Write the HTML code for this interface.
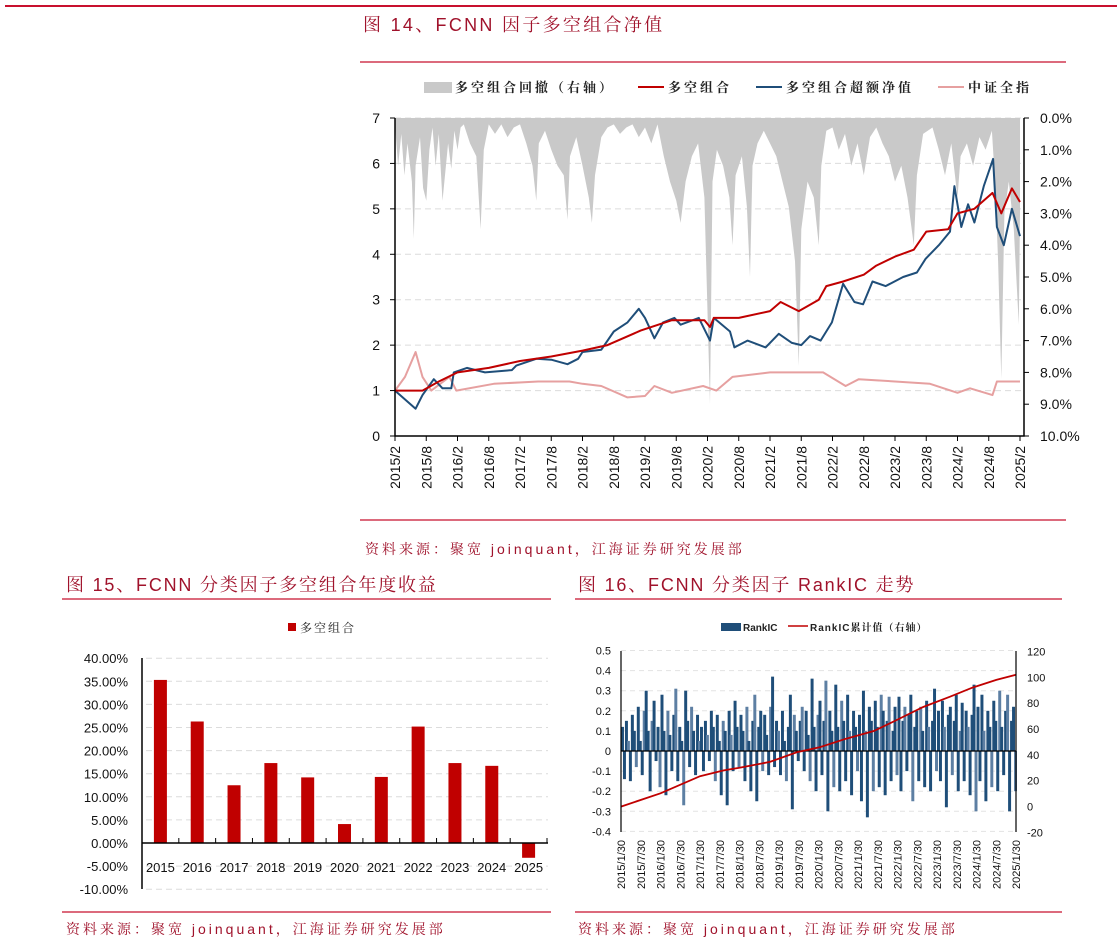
<!DOCTYPE html>
<html><head><meta charset="utf-8"><style>
html,body{margin:0;padding:0;background:#fff;width:1117px;height:943px;overflow:hidden}
svg{display:block}
text{font-family:"Liberation Sans","Noto Sans CJK SC",sans-serif}
.cn{font-family:"Liberation Sans","Noto Serif CJK SC",serif}
</style></head><body>
<svg id="s" width="1117" height="943" viewBox="0 0 1117 943" xmlns="http://www.w3.org/2000/svg">
<line x1="5" y1="6" x2="1117" y2="6" stroke="#c8102e" stroke-width="2"/>
<text x="363" y="31" class="cn" font-size="18" letter-spacing="2.3" fill="#a0122b">图 14、FCNN 因子多空组合净值</text>
<line x1="360" y1="62" x2="1066" y2="62" stroke="#c8102e" stroke-width="1.2"/>
<g font-size="13" font-weight="bold" fill="#222">
<rect x="424" y="82" width="28" height="11" fill="#c9c9c9"/>
<text x="455" y="92" class="cn" letter-spacing="3">多空组合回撤（右轴）</text>
<line x1="638" y1="87" x2="664" y2="87" stroke="#c00000" stroke-width="2"/>
<text x="668" y="92" class="cn" letter-spacing="3">多空组合</text>
<line x1="756" y1="87" x2="782" y2="87" stroke="#1f4e79" stroke-width="2"/>
<text x="786" y="92" class="cn" letter-spacing="3">多空组合超额净值</text>
<line x1="938" y1="87" x2="964" y2="87" stroke="#e6a0a0" stroke-width="2"/>
<text x="968" y="92" class="cn" letter-spacing="3">中证全指</text>
</g>
<g id="main"></g>
<line x1="360" y1="520" x2="1066" y2="520" stroke="#c8102e" stroke-width="1.2"/>
<text x="365" y="554" class="cn" font-size="14" letter-spacing="3" fill="#a0122b">资料来源：聚宽 joinquant，江海证券研究发展部</text>

<text x="66" y="591" class="cn" font-size="18" letter-spacing="1.8" fill="#a0122b">图 15、FCNN 分类因子多空组合年度收益</text>
<line x1="62" y1="599" x2="551" y2="599" stroke="#c8102e" stroke-width="1.2"/>
<rect x="288" y="623" width="8" height="8" fill="#c00000"/>
<text x="300" y="632" class="cn" font-size="12" letter-spacing="2" fill="#222">多空组合</text>
<g id="bar"></g>
<line x1="62" y1="912" x2="551" y2="912" stroke="#c8102e" stroke-width="1.2"/>
<text x="66" y="934" class="cn" font-size="14" letter-spacing="3" fill="#a0122b">资料来源：聚宽 joinquant，江海证券研究发展部</text>

<text x="578" y="591" class="cn" font-size="18" letter-spacing="1.8" fill="#a0122b">图 16、FCNN 分类因子 RankIC 走势</text>
<line x1="575" y1="599" x2="1062" y2="599" stroke="#c8102e" stroke-width="1.2"/>
<rect x="721" y="623" width="20" height="8" fill="#1f4e79"/>
<text x="743" y="631" font-size="10" font-weight="bold" fill="#222">RankIC</text>
<line x1="788" y1="626" x2="808" y2="626" stroke="#c00000" stroke-width="1.5"/>
<text x="810" y="631" class="cn" font-size="10" font-weight="bold" letter-spacing="1" fill="#222">RankIC累计值（右轴）</text>
<g id="ic"></g>
<line x1="575" y1="912" x2="1062" y2="912" stroke="#c8102e" stroke-width="1.2"/>
<text x="578" y="934" class="cn" font-size="14" letter-spacing="3" fill="#a0122b">资料来源：聚宽 joinquant，江海证券研究发展部</text>
</svg>
<script>
// ===== Main chart data (t = years since 2015/2) =====
const redT=[0,0.44,0.7,1,1.5,2,2.5,3,3.4,3.93,4.43,4.95,5.04,5.1,5.5,6,6.17,6.46,6.78,6.9,7.17,7.5,7.7,8,8.3,8.5,8.85,9,9.27,9.56,9.7,9.87,10];
const redV=[1.0,1.0,1.2,1.4,1.5,1.65,1.75,1.88,2.0,2.32,2.55,2.55,2.4,2.6,2.6,2.75,2.95,2.75,3.0,3.3,3.4,3.55,3.75,3.95,4.1,4.5,4.55,4.9,5.0,5.35,4.9,5.45,5.15];
const blueT=[0,0.33,0.44,0.62,0.76,0.9,0.94,1.15,1.44,1.87,1.94,2.26,2.5,2.76,2.93,3.0,3.3,3.5,3.72,3.9,4.0,4.15,4.29,4.47,4.57,4.86,5.04,5.1,5.36,5.43,5.64,5.93,6.14,6.35,6.5,6.64,6.81,6.99,7.17,7.35,7.49,7.64,7.85,8.13,8.35,8.49,8.7,8.88,8.95,9.06,9.17,9.27,9.42,9.57,9.63,9.74,9.87,10];
const blueV=[1.0,0.6,0.9,1.25,1.05,1.05,1.4,1.5,1.4,1.45,1.55,1.7,1.68,1.58,1.7,1.85,1.9,2.3,2.5,2.8,2.6,2.15,2.5,2.6,2.45,2.6,2.1,2.6,2.3,1.95,2.1,1.95,2.25,2.05,2.0,2.2,2.1,2.5,3.35,2.95,2.9,3.4,3.3,3.5,3.6,3.9,4.2,4.5,5.5,4.6,5.1,4.7,5.5,6.1,4.6,4.2,5.0,4.4];
const pinkT=[0,0.16,0.33,0.44,0.58,0.87,0.98,1.58,2.29,2.79,3.0,3.3,3.72,4.0,4.15,4.43,4.93,5.14,5.4,6.0,6.55,6.85,7.21,7.42,8.0,8.56,9.0,9.2,9.56,9.63,10];
const pinkV=[1.0,1.3,1.85,1.3,1.0,1.3,1.0,1.15,1.2,1.2,1.15,1.1,0.85,0.88,1.1,0.95,1.1,1.0,1.3,1.4,1.4,1.4,1.1,1.25,1.2,1.15,0.95,1.05,0.9,1.2,1.2];
const ddT=[0,0.05,0.1,0.15,0.2,0.27,0.3,0.33,0.4,0.45,0.5,0.55,0.6,0.65,0.7,0.76,0.8,0.85,0.9,0.95,1.0,1.05,1.1,1.2,1.3,1.37,1.42,1.5,1.6,1.7,1.8,1.9,2.0,2.1,2.2,2.26,2.3,2.4,2.5,2.6,2.7,2.76,2.8,2.9,3.0,3.1,3.15,3.2,3.3,3.4,3.5,3.6,3.7,3.8,3.9,4.0,4.1,4.2,4.3,4.4,4.5,4.57,4.65,4.75,4.85,4.95,5.04,5.08,5.15,5.25,5.35,5.4,5.45,5.55,5.63,5.68,5.72,5.8,5.9,6.0,6.1,6.2,6.3,6.4,6.46,6.5,6.6,6.7,6.78,6.82,6.9,7.0,7.1,7.2,7.3,7.4,7.5,7.6,7.7,7.8,7.9,8.0,8.1,8.2,8.3,8.35,8.45,8.6,8.7,8.8,8.9,9.0,9.05,9.15,9.25,9.35,9.45,9.55,9.6,9.65,9.7,9.75,9.82,9.9,9.98,10];
const ddV=[0.2,1.5,0.5,1.8,0.8,2.0,3.8,1.5,0.6,2.2,2.6,1.0,0.3,1.5,0.5,2.6,1.8,0.8,1.6,0.4,1.0,0.3,0.2,0.8,1.2,3.5,1.0,0.2,0.5,0.2,0.6,0.3,0.2,0.8,1.5,2.6,0.8,0.4,1.0,1.5,1.8,3.2,1.2,0.6,1.5,2.5,3.3,1.8,0.6,0.3,0.2,0.5,0.3,0.2,0.6,0.3,0.8,0.2,1.2,2.0,2.6,3.3,2.0,1.2,0.8,2.5,9.0,2.0,1.0,1.5,2.5,4.0,1.8,1.2,2.8,5.0,1.5,0.8,0.4,0.8,1.2,2.0,2.8,4.5,7.8,3.5,2.0,2.5,4.0,1.5,0.4,0.3,1.0,0.5,1.5,0.8,1.8,0.6,0.3,0.8,1.2,2.0,1.5,2.5,4.0,1.8,0.5,0.3,1.0,1.8,0.8,2.5,1.2,0.8,1.5,0.6,1.0,0.4,2.0,4.5,8.2,3.0,2.0,3.5,6.5,3.0];
const leftTicks=[0,1,2,3,4,5,6,7];
const rightTicks=["0.0%","1.0%","2.0%","3.0%","4.0%","5.0%","6.0%","7.0%","8.0%","9.0%","10.0%"];
const xTicks=["2015/2","2015/8","2016/2","2016/8","2017/2","2017/8","2018/2","2018/8","2019/2","2019/8","2020/2","2020/8","2021/2","2021/8","2022/2","2022/8","2023/2","2023/8","2024/2","2024/8","2025/2"];

// ===== Annual bar data =====
const years=["2015","2016","2017","2018","2019","2020","2021","2022","2023","2024","2025"];
const annual=[35.3,26.3,12.5,17.3,14.2,4.1,14.3,25.2,17.3,16.7,-3.2];
const barTicks=["40.00%","35.00%","30.00%","25.00%","20.00%","15.00%","10.00%","5.00%","0.00%","-5.00%","-10.00%"];

// ===== RankIC data =====
const rankIC=[0.12,-0.14,0.15,0.05,-0.15,0.18,0.1,-0.08,0.22,0.05,-0.12,0.2,0.3,0.1,-0.2,0.15,0.25,-0.05,0.12,-0.18,
0.28,0.1,-0.22,0.2,0.08,-0.1,0.18,0.31,-0.15,0.12,0.05,-0.27,0.3,0.15,-0.08,0.22,0.1,-0.12,0.18,0.05,
0.12,-0.1,0.15,0.08,-0.05,0.2,0.12,-0.15,0.18,0.05,-0.22,0.15,0.1,-0.27,0.2,0.08,-0.1,0.25,0.12,-0.08,
0.18,0.1,-0.15,0.22,0.05,-0.2,0.15,0.28,-0.25,0.12,0.2,-0.1,0.18,0.08,-0.12,0.22,0.37,-0.08,0.15,0.1,
-0.12,0.2,0.05,-0.15,0.12,0.28,-0.29,0.18,0.1,-0.05,0.15,0.22,-0.1,0.2,0.08,-0.15,0.36,0.12,-0.2,0.18,
0.25,-0.12,0.15,0.35,-0.3,0.2,0.1,-0.18,0.33,0.12,-0.2,0.25,0.15,-0.15,0.28,0.1,-0.22,0.2,0.12,-0.1,
0.18,-0.25,0.3,0.1,-0.33,0.22,0.15,-0.2,0.25,0.12,-0.18,0.28,0.2,-0.22,0.15,0.27,-0.15,0.1,0.22,-0.12,
0.27,-0.2,0.15,0.22,-0.1,0.18,0.28,-0.25,0.12,0.2,-0.15,0.22,0.1,-0.18,0.25,0.12,-0.2,0.15,0.31,-0.1,
0.2,-0.15,0.25,0.12,-0.28,0.18,0.22,-0.12,0.15,0.28,-0.2,0.1,0.24,-0.15,0.2,0.12,-0.22,0.18,0.33,-0.3,
0.22,-0.15,0.28,0.1,-0.25,0.2,0.12,-0.18,0.25,0.15,-0.2,0.3,0.12,-0.12,0.2,0.28,-0.3,0.15,0.22,-0.2];
const cumT=[0,1,2,2.6,3,3.77,4.45,5.04,5.7,6.4,6.98,7.65,8.33,8.9,9.5,10];
const cumV=[0,10.3,23.5,28,30,34.6,42,46,52.5,58.5,67,77,85,92,98,102];
const icLeftTicks=["0.5","0.4","0.3","0.2","0.1","0","-0.1","-0.2","-0.3","-0.4"];
const icRightTicks=["120","100","80","60","40","20","0","-20"];
const icXTicks=["2015/1/30","2015/7/30","2016/1/30","2016/7/30","2017/1/30","2017/7/30","2018/1/30","2018/7/30","2019/1/30","2019/7/30","2020/1/30","2020/7/30","2021/1/30","2021/7/30","2022/1/30","2022/7/30","2023/1/30","2023/7/30","2024/1/30","2024/7/30","2025/1/30"];

const NS="http://www.w3.org/2000/svg";
function mk(p,tag,a,txt){const e=document.createElementNS(NS,tag);for(const k in a)e.setAttribute(k,a[k]);if(txt!==undefined)e.textContent=txt;p.appendChild(e);return e;}

// ---- Main chart ----
(function(){
const g=document.getElementById('main');
const X=t=>395+t*62.5, Y=v=>436-v*45.43, Y2=p=>118+p*31.8;
leftTicks.forEach(v=>{
 if(v>0){const l=mk(g,'line',{x1:395,x2:1022,y1:Y(v),y2:Y(v),stroke:'#dcdcdc','stroke-dasharray':'6,4'});
 
 }
 const t=mk(g,'text',{x:380,y:Y(v)+5,'font-size':14,'text-anchor':'end',fill:'#111'},String(v));
 
 
});
rightTicks.forEach((s,i)=>{
 const t=mk(g,'text',{x:1040,y:Y2(i)+5,'font-size':14,fill:'#111'},s);
 
 
 const m=mk(g,'line',{x1:1024,x2:1029,y1:Y2(i),y2:Y2(i),stroke:'#000'});
 
 
});
let d='M'+X(ddT[0])+','+Y2(0);
ddT.forEach((t,i)=>{d+=' L'+X(t).toFixed(1)+','+Y2(ddV[i]).toFixed(1);});
d+=' L'+X(ddT[ddT.length-1])+','+Y2(0)+' Z';
const a=mk(g,'path',{d:d,fill:'#c9c9c9'});


function line(T,V,c,n){const p=mk(g,'polyline',{points:T.map((t,i)=>X(t).toFixed(1)+','+Y(V[i]).toFixed(1)).join(' '),fill:'none',stroke:c,'stroke-width':2,'stroke-linejoin':'round'});
 
 }
line(pinkT,pinkV,'#e6a0a0','index-line');
line(blueT,blueV,'#1f4e79','excess-line');
line(redT,redV,'#c00000','longshort-line');
const ax=mk(g,'path',{d:'M395,118 V436 H1024 V118',fill:'none',stroke:'#000','stroke-width':1.5});


leftTicks.forEach(v=>{const m=mk(g,'line',{x1:390,x2:395,y1:Y(v),y2:Y(v),stroke:'#000'});
 
 });
xTicks.forEach((s,i)=>{const x=X(i*0.5);
 const m=mk(g,'line',{x1:x,x2:x,y1:436,y2:441,stroke:'#000'});
 
 
 const t=mk(g,'text',{x:0,y:0,'font-size':14,'text-anchor':'end',fill:'#111',transform:'translate('+(x+5)+',446) rotate(-90)'},s);
 
 });
})();

// ---- Annual bar chart ----
(function(){
const g=document.getElementById('bar');
const Y=p=>843-p*4.62, slot=405/years.length, C=i=>142+slot*(i+0.5);
barTicks.forEach((s,i)=>{const v=40-i*5;
 if(v!==0){const l=mk(g,'line',{x1:146,x2:548,y1:Y(v),y2:Y(v),stroke:'#dcdcdc','stroke-dasharray':'6,4'});
 
 }
 const t=mk(g,'text',{x:128,y:Y(v)+5,'font-size':13,'text-anchor':'end',fill:'#111'},s);
 
 });
annual.forEach((v,i)=>{const r=mk(g,'rect',{x:C(i)-6.5,y:Math.min(Y(v),Y(0)),width:13,height:Math.abs(Y(v)-Y(0)),fill:'#c00000'});
 
 
 const t=mk(g,'text',{x:C(i),y:872,'font-size':13,'text-anchor':'middle',fill:'#111'},years[i]);
 
 });
const ax=mk(g,'path',{d:'M142,658 V889 M142,843 H548',fill:'none',stroke:'#000','stroke-width':1.5});


for(let i=0;i<=years.length;i++){const m=mk(g,'line',{x1:142+slot*i,x2:142+slot*i,y1:843,y2:838,stroke:'#000'});
 
 }
})();

// ---- RankIC chart ----
(function(){
const g=document.getElementById('ic');
const L=621,R=1016,Yl=v=>751-v*201,Yr=c=>806.6-c*1.293;
icLeftTicks.forEach(s=>{const v=parseFloat(s);
 if(v!==0){const l=mk(g,'line',{x1:L,x2:R,y1:Yl(v),y2:Yl(v),stroke:'#e3e3e3','stroke-dasharray':'5,4'});
 
 }
 const t=mk(g,'text',{x:611,y:Yl(v)+4,'font-size':11,'text-anchor':'end',fill:'#111'},s);
 
 });
icRightTicks.forEach(s=>{const c=parseFloat(s);
 const t=mk(g,'text',{x:1027,y:Yr(c)+4,'font-size':11,fill:'#111'},s);
 
 });
const w=(R-L)/rankIC.length;
rankIC.forEach((v,i)=>{const r=mk(g,'rect',{x:L+i*w,y:Math.min(Yl(v),Yl(0)),width:w+1,height:Math.abs(Yl(v)-Yl(0)),fill:(i%4===3)?'#5d7fa3':'#1f4e79'});
 
 });
const z=mk(g,'line',{x1:L,x2:R,y1:Yl(0),y2:Yl(0),stroke:'#000','stroke-width':1.2});


const p=mk(g,'polyline',{points:cumT.map((t,i)=>(L+t*39.5).toFixed(1)+','+Yr(cumV[i]).toFixed(1)).join(' '),fill:'none',stroke:'#c00000','stroke-width':1.8});


const ax=mk(g,'path',{d:'M'+L+',651 V832 M'+R+',651 V832',fill:'none',stroke:'#000','stroke-width':1.2});


icXTicks.forEach((s,i)=>{const x=L+i*19.75;
 const t=mk(g,'text',{x:0,y:0,'font-size':11,'text-anchor':'end',fill:'#111',transform:'translate('+(x+4)+',840) rotate(-90)'},s);
 
 });
})();
</script>
</body></html>
